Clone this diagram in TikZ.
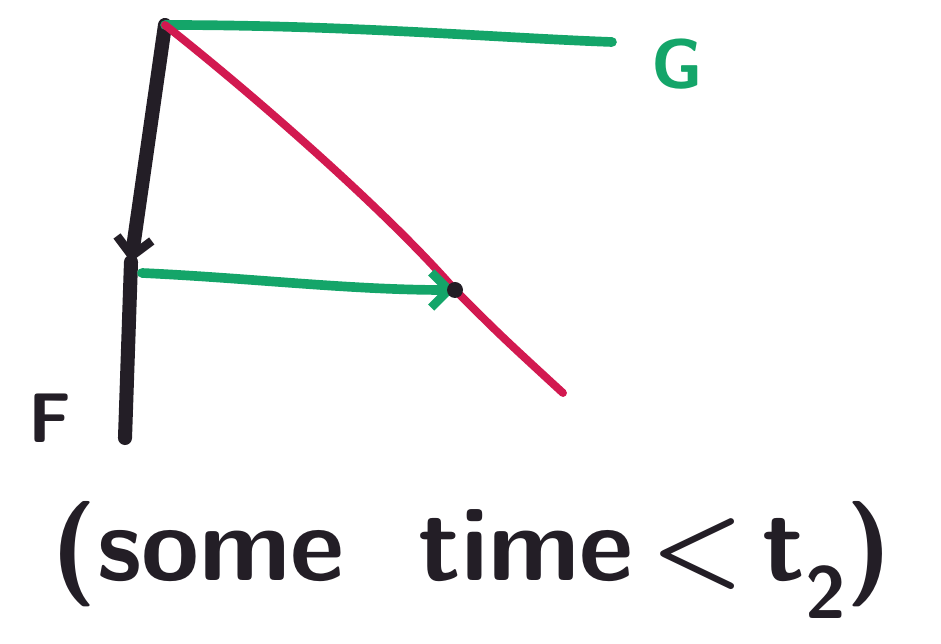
\documentclass[tikz,border=0pt]{standalone}
\usepackage{amsmath,amssymb}
\usepackage{xcolor}
\usepackage{tikz}
\usetikzlibrary{arrows.meta,positioning,calc}

\definecolor{mkgreen}{RGB}{20,165,105}
\definecolor{mkred}{RGB}{210,25,80}
\definecolor{mkblack}{RGB}{35,30,38}

\begin{document}
\begin{tikzpicture}[
  x=0.02cm, y=-0.02cm,
  pen/.style={line width=8pt, line cap=round, mkblack},
  grn/.style={line width=5.5pt, line cap=round, mkgreen},
  rd/.style={line width=4.5pt, line cap=round, mkred},
  ar/.style={-{Straight Barb[length=10pt,width=20pt,line width=5pt]}},
  lb/.style={font=\sffamily\bfseries\fontsize{40}{40}\selectfont, inner sep=0pt}
]
\useasboundingbox (0,0) rectangle (941,644);
% black time line
\coordinate (top) at (165,25);
\coordinate (mid) at (131,262);
\coordinate (bot) at (125,438);
\draw[pen, ar] (top) -- (mid);
\draw[pen] (mid) -- (bot);
\node[lb, mkblack] (F) at (50,418) {F};
% green line to G
\coordinate (gend) at (612,42);
\draw[grn] (top) .. controls (350,25) and (500,38) .. (gend);
\node[lb, mkgreen] (G) at (677,64) {G};
% red curve
\coordinate (hit) at (455,290);
\coordinate (rend) at (563,393);
\draw[rd] (top) .. controls (260,100) and (390,215) .. (hit) .. controls (500,335) .. (rend);
% green arrow to the hit point
\coordinate (gsrc) at (142,273);
\draw[grn, ar] (gsrc) .. controls (250,278) and (350,290) .. (hit);
\fill[mkblack] (hit) circle[radius=8];
% caption
\node[font=\sffamily\bfseries\fontsize{60}{60}\selectfont, mkblack, inner sep=0pt] (cap) at (472,560) {(some\hspace{0.7em}time\,<\,t\textsubscript{2})};
\end{tikzpicture}
\end{document}
